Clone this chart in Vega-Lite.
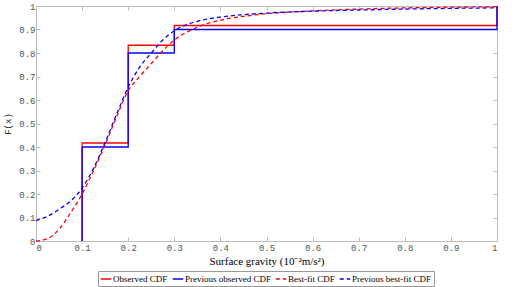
{
  "$schema": "https://vega.github.io/schema/vega-lite/v6.json",
  "width": 461,
  "height": 235,
  "autosize": {"type": "none"},
  "padding": {"left": 36, "top": 6, "right": 21, "bottom": 46},
  "background": "white",
  "config": {
    "view": {"stroke": null},
    "axis": {"grid": false, "domainColor": "#bdbdbd", "tickColor": "#bdbdbd", "labelFont": "Liberation Mono", "labelFontSize": 9, "labelColor": "#555555", "tickSize": -4, "titleFontWeight": "normal"}
  },
  "datasets": {
    "obs": [
      {"series": "Observed CDF", "i": 1, "x": 0.1, "y": 0},
      {"series": "Observed CDF", "i": 2, "x": 0.1, "y": 0.417},
      {"series": "Observed CDF", "i": 3, "x": 0.2, "y": 0.833},
      {"series": "Observed CDF", "i": 4, "x": 0.3, "y": 0.917},
      {"series": "Observed CDF", "i": 5, "x": 1, "y": 1},
      {"series": "Previous observed CDF", "i": 1, "x": 0.1, "y": 0},
      {"series": "Previous observed CDF", "i": 2, "x": 0.1, "y": 0.4},
      {"series": "Previous observed CDF", "i": 3, "x": 0.2, "y": 0.8},
      {"series": "Previous observed CDF", "i": 4, "x": 0.3, "y": 0.9},
      {"series": "Previous observed CDF", "i": 5, "x": 1, "y": 1}
    ],
    "fit": [
      {"series": "Best-fit CDF", "x": 0, "y": 0},
      {"series": "Best-fit CDF", "x": 0.025, "y": 0.01},
      {"series": "Best-fit CDF", "x": 0.05, "y": 0.05},
      {"series": "Best-fit CDF", "x": 0.075, "y": 0.12},
      {"series": "Best-fit CDF", "x": 0.1, "y": 0.2},
      {"series": "Best-fit CDF", "x": 0.125, "y": 0.3},
      {"series": "Best-fit CDF", "x": 0.15, "y": 0.41},
      {"series": "Best-fit CDF", "x": 0.175, "y": 0.53},
      {"series": "Best-fit CDF", "x": 0.2, "y": 0.64},
      {"series": "Best-fit CDF", "x": 0.225, "y": 0.7},
      {"series": "Best-fit CDF", "x": 0.25, "y": 0.755},
      {"series": "Best-fit CDF", "x": 0.275, "y": 0.81},
      {"series": "Best-fit CDF", "x": 0.3, "y": 0.855},
      {"series": "Best-fit CDF", "x": 0.35, "y": 0.91},
      {"series": "Best-fit CDF", "x": 0.4, "y": 0.94},
      {"series": "Best-fit CDF", "x": 0.45, "y": 0.956},
      {"series": "Best-fit CDF", "x": 0.5, "y": 0.967},
      {"series": "Best-fit CDF", "x": 0.6, "y": 0.979},
      {"series": "Best-fit CDF", "x": 0.7, "y": 0.987},
      {"series": "Best-fit CDF", "x": 0.8, "y": 0.992},
      {"series": "Best-fit CDF", "x": 0.9, "y": 0.995},
      {"series": "Best-fit CDF", "x": 1, "y": 0.997},
      {"series": "Previous best-fit CDF", "x": 0, "y": 0.087},
      {"series": "Previous best-fit CDF", "x": 0.025, "y": 0.105},
      {"series": "Previous best-fit CDF", "x": 0.05, "y": 0.135},
      {"series": "Previous best-fit CDF", "x": 0.075, "y": 0.17},
      {"series": "Previous best-fit CDF", "x": 0.1, "y": 0.225},
      {"series": "Previous best-fit CDF", "x": 0.125, "y": 0.31},
      {"series": "Previous best-fit CDF", "x": 0.15, "y": 0.42},
      {"series": "Previous best-fit CDF", "x": 0.175, "y": 0.54},
      {"series": "Previous best-fit CDF", "x": 0.2, "y": 0.655},
      {"series": "Previous best-fit CDF", "x": 0.225, "y": 0.74},
      {"series": "Previous best-fit CDF", "x": 0.25, "y": 0.8},
      {"series": "Previous best-fit CDF", "x": 0.275, "y": 0.855},
      {"series": "Previous best-fit CDF", "x": 0.3, "y": 0.895},
      {"series": "Previous best-fit CDF", "x": 0.35, "y": 0.935},
      {"series": "Previous best-fit CDF", "x": 0.4, "y": 0.953},
      {"series": "Previous best-fit CDF", "x": 0.45, "y": 0.963},
      {"series": "Previous best-fit CDF", "x": 0.5, "y": 0.97},
      {"series": "Previous best-fit CDF", "x": 0.6, "y": 0.978},
      {"series": "Previous best-fit CDF", "x": 0.7, "y": 0.983},
      {"series": "Previous best-fit CDF", "x": 0.8, "y": 0.987},
      {"series": "Previous best-fit CDF", "x": 0.9, "y": 0.99},
      {"series": "Previous best-fit CDF", "x": 1, "y": 0.992}
    ]
  },
  "layer": [
    {
      "data": {"name": "obs"},
      "mark": {"type": "line", "interpolate": "step-after", "strokeWidth": 1.3, "clip": false},
      "encoding": {
        "x": {"field": "x", "type": "quantitative", "scale": {"domain": [0, 1], "nice": false},
          "axis": {"orient": "bottom", "values": [0, 0.1, 0.2, 0.3, 0.4, 0.5, 0.6, 0.7, 0.8, 0.9, 1], "format": "~g", "labelPadding": 6,
            "title": "Surface gravity (10⁻²m/s²)", "titleFont": "Liberation Serif", "titleFontSize": 11, "titleColor": "#000000", "titlePadding": 3}},
        "y": {"field": "y", "type": "quantitative", "scale": {"domain": [0, 1], "nice": false},
          "axis": {"orient": "left", "values": [0, 0.1, 0.2, 0.3, 0.4, 0.5, 0.6, 0.7, 0.8, 0.9, 1], "format": "~g", "labelPadding": 5,
            "title": "F(x)", "titleFont": "Liberation Mono", "titleFontSize": 9, "titleColor": "#333333", "titlePadding": 6}},
        "order": {"field": "i", "type": "quantitative"},
        "color": {"field": "series", "type": "nominal",
          "scale": {"domain": ["Observed CDF", "Previous observed CDF", "Best-fit CDF", "Previous best-fit CDF"], "range": ["#ff0000", "#0000ff", "#ff0000", "#0000ff"]},
          "legend": {"orient": "none", "legendX": 62, "legendY": 265, "direction": "horizontal", "title": null, "symbolType": "stroke", "symbolSize": 110, "symbolStrokeWidth": 1.5,
            "labelFont": "Liberation Serif", "labelFontSize": 9, "labelColor": "#000000", "strokeColor": "#999999", "padding": 2, "columnPadding": 1, "symbolOffset": 0, "labelOffset": 1, "fillColor": "white"}},
        "strokeDash": {"field": "series", "type": "nominal",
          "scale": {"domain": ["Observed CDF", "Previous observed CDF", "Best-fit CDF", "Previous best-fit CDF"], "range": [[1, 0], [1, 0], [4, 3], [4, 3]]},
          "legend": null}
      }
    },
    {
      "data": {"name": "fit"},
      "mark": {"type": "line", "interpolate": "monotone", "strokeWidth": 1.3},
      "encoding": {
        "x": {"field": "x", "type": "quantitative", "axis": {"orient": "top", "values": [0, 0.1, 0.2, 0.3, 0.4, 0.5, 0.6, 0.7, 0.8, 0.9, 1], "labels": false, "title": null}},
        "y": {"field": "y", "type": "quantitative", "axis": {"orient": "right", "values": [0, 0.1, 0.2, 0.3, 0.4, 0.5, 0.6, 0.7, 0.8, 0.9, 1], "labels": false, "title": null}},
        "color": {"field": "series", "type": "nominal"},
        "strokeDash": {"field": "series", "type": "nominal"}
      }
    }
  ],
  "resolve": {"axis": {"x": "independent", "y": "independent"}}
}
